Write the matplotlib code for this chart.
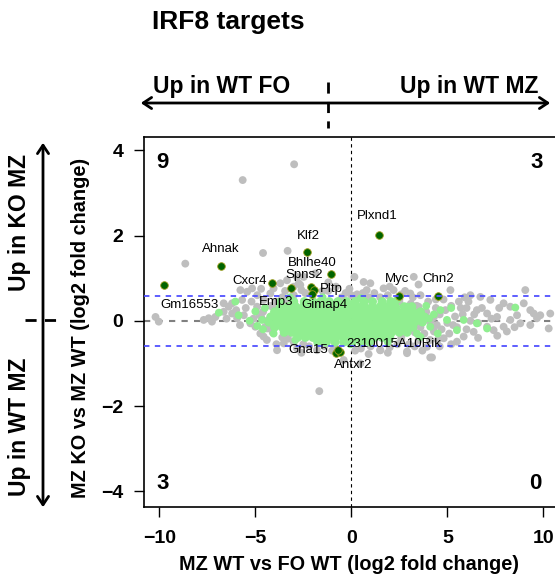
import numpy as np
import matplotlib
matplotlib.use("Agg")
import matplotlib.pyplot as plt
from matplotlib.patches import FancyArrowPatch
from matplotlib.lines import Line2D

plt.rcParams['font.family'] = ['Liberation Sans', 'DejaVu Sans']

# grey: all genes (edges of the cloud + tails + outliers)
grey_pts = [
    (-10.2, 0.09), (-10.03, -0.02), (-8.65, 1.34), (-7.69, 0.02), (-7.43, 0.06), (-7.26, -0.02),
    (-7.08, 0.09), (-6.65, 0.21), (-6.65, 0.41), (-6.39, 0.33), (-6.21, 0.17), (-6.21, 0.41),
    (-5.95, 0.06), (-5.6, 0.13), (-5.69, 0.49), (-5.43, 0.68), (-5.17, 0.76), (-5.78, 0.72),
    (-5.26, -0.06), (-5.0, -0.14), (-4.74, -0.3), (-4.57, -0.37), (-4.39, -0.18), (-3.87, -0.69),
    (-3.52, -0.53), (-4.91, 0.33), (-4.57, 0.49), (-4.22, 0.64), (-4.05, 0.76), (-3.7, 0.88),
    (-3.35, 0.95), (-2.83, 1.03), (-2.66, 0.84), (-4.6, 1.59), (-3.32, 1.64), (-5.66, 3.30),
    (-2.98, 3.67), (-1.67, -1.65), (-2.48, 1.03), (-1.88, 1.11), (-2.74, 0.88),
    (0.16, 1.03), (0.64, 0.91), (0.99, 0.88), (3.25, 1.03), (1.68, 0.76), (3.07, 0.64),
    (5.16, 0.72), (6.2, 0.6), (6.72, 0.56), (7.24, 0.49), (7.93, 0.41), (8.28, 0.33),
    (9.32, 0.25), (9.5, 0.17), (9.84, 0.13), (10.36, 0.17), (10.28, -0.18), (9.32, -0.1),
    (8.8, -0.06), (7.93, -0.14), (7.41, -0.22), (7.07, -0.14), (6.37, -0.26), (5.85, -0.37),
    (5.5, -0.49), (4.81, -0.41), (4.11, -0.86), (3.94, -0.61), (6.54, 0.25), (7.07, 0.17),
    (7.59, 0.09), (8.28, 0.02), (8.63, 0.13), (8.98, 0.41), (9.67, 0.06), (9.06, 0.72),
    (4.0, 0.45), (4.4, 0.3), (4.8, 0.5), (5.2, 0.35), (5.6, 0.45), (6.0, 0.3), (3.7, 0.2),
    (4.2, 0.05), (4.6, 0.15), (5.0, -0.05), (5.4, 0.1), (5.8, 0.15), (6.2, 0.0), (6.6, -0.05),
    (3.8, -0.3), (4.3, -0.25), (4.7, -0.2), (5.1, -0.3), (5.5, -0.15), (6.0, -0.2), (3.5, -0.45),
    (4.5, -0.45), (3.2, 0.55), (3.6, 0.6), (2.8, 0.7), (2.2, 0.72), (1.9, 0.6), (2.5, 0.5),
    (3.3, -0.6), (2.9, -0.72), (2.4, -0.55), (1.5, -0.69), (1.0, -0.6), (0.5, -0.65),
    (0.47, -1.0), (-0.4, -0.92), (-1.0, -0.7), (-1.79, -0.69), (-2.83, -0.65), (-3.0, -0.5),
    (-2.5, -0.55), (1.2, 0.65), (0.3, 0.62), (-0.3, 0.65), (-0.8, 0.8), (-1.5, 0.7),
    (-2.4, 0.65), (-3.0, 0.6), (-3.6, 0.55), (-4.2, 0.35), (-3.9, 0.45), (2.9, -0.76),
    (4.2, -0.86), (1.51, -0.69), (-0.1, 0.75), (0.8, 0.72), (-1.2, 0.9), (-0.5, 0.55),
    (-2.2, -0.6), (-1.4, -0.6), (0.2, -0.7), (2.0, -0.62), (-3.3, -0.42), (-4.3, -0.12),
    (-5.5, 0.3), (-4.9, 0.6), (-3.45, 0.7), (2.6, -0.45), (3.1, 0.4), (0.9, 0.55),
    (3.4, 0.35), (3.9, 0.1), (4.1, -0.45), (4.4, 0.5), (4.9, 0.25), (5.3, -0.1), (5.7, 0.3),
    (6.1, 0.45), (6.4, 0.15), (6.8, 0.3), (7.3, 0.05), (7.7, 0.3), (8.1, -0.25), (8.5, -0.15),
    (3.0, -0.55), (3.7, -0.7), (4.6, -0.6), (5.2, -0.55), (6.6, -0.4), (7.6, -0.35),
    (-5.8, -0.1), (-5.2, 0.45), (-4.7, 0.75), (-4.4, -0.45), (-3.9, -0.55), (-3.0, 0.8),
    (-2.6, 0.72), (-1.2, 0.7), (0.0, 0.6), (0.6, 0.65), (1.5, 0.55), (2.0, 0.8), (2.6, 0.62),
    (-0.8, -0.65), (0.9, -0.78), (-2.6, -0.75), (1.9, -0.75), (3.5, 0.85), (5.9, 0.55),
    (-6.0, 0.25), (-6.5, 0.05), (-5.1, 0.05), (-4.8, 0.15),
    (-4.6, 0.21), (-4.7, 0.09), (-4.5, -0.15), (-4.1, -0.27), (-3.6, -0.39), (3.9, 0.21),
    (4.1, -0.03), (4.3, 0.09), (3.6, -0.15), (3.3, -0.27), (2.6, -0.39), (3.5, 0.33),
    (2.5, 0.45), (-3.3, 0.45), (-4.1, 0.33), (-4.4, 0.0), (4.45, -0.1), (-3.9, 0.25),
]

# light green: IRF8 targets (dense core rows + scattered)
green_rows = {
    0.45: [-3.0, -2.45, -2.0, -1.6, -1.15, -0.7, -0.25, 0.2, 0.65, 1.1, 1.6, 2.05],
    0.33: [-3.7, -3.3, -2.9, -2.5, -2.1, -1.7, -1.3, -0.9, -0.5, -0.1, 0.3, 0.7, 1.1,
           1.5, 1.9, 2.3, 2.75, 3.15],
    0.21: [-4.0, -3.6, -3.2, -2.8, -2.4, -2.0, -1.6, -1.2, -0.8, -0.4, 0.0, 0.4, 0.8,
           1.2, 1.6, 2.0, 2.4, 2.8, 3.2, 3.6],
    0.09: [-4.2, -3.8, -3.4, -3.0, -2.6, -2.2, -1.8, -1.4, -1.0, -0.6, -0.2, 0.2, 0.6,
           1.0, 1.4, 1.8, 2.2, 2.6, 3.0, 3.4, 3.8],
    -0.03: [-4.3, -3.9, -3.5, -3.1, -2.7, -2.3, -1.9, -1.5, -1.1, -0.7, -0.3, 0.1, 0.5,
            0.9, 1.3, 1.7, 2.1, 2.5, 2.9, 3.3, 3.7],
    -0.15: [-4.0, -3.6, -3.2, -2.8, -2.4, -2.0, -1.6, -1.2, -0.8, -0.4, 0.0, 0.4, 0.8,
            1.2, 1.6, 2.0, 2.4, 2.8, 3.2],
    -0.27: [-3.5, -3.1, -2.7, -2.3, -1.9, -1.5, -1.1, -0.7, -0.3, 0.1, 0.5, 0.9, 1.3,
            1.7, 2.1, 2.5, 2.9],
    -0.39: [-2.8, -2.4, -2.0, -1.6, -1.2, -0.8, -0.4, 0.0, 0.4, 0.8, 1.2, 1.6, 2.0],
    -0.50: [-1.75, -1.3, -0.85, -0.4, 0.05, 0.5, 0.95],
}
green_pts = [
    (-6.9, 0.19), (-6.04, 0.45), (-5.87, 0.13), (-5.3, 0.0), (-5.0, 0.22), (-4.65, 0.02),
    (-4.9, -0.12), (-4.05, -0.3), (-3.7, 0.45), (-2.92, -0.45), (4.64, 0.25), (4.11, -0.14),
    (4.98, 0.02), (5.5, -0.22), (5.85, 0.02), (6.54, -0.06), (7.07, -0.18), (8.54, 0.31),
    (4.5, -0.3), (5.2, 0.3), (3.9, 0.35), (4.3, 0.15), (3.6, -0.38), (-3.2, 0.55),
    (-1.5, 0.55), (0.5, 0.53), (-0.05, -0.55), (1.9, -0.5), (2.9, 0.33), (2.72, -0.14),
    (2.38, 0.49), (1.86, -0.37), (3.42, -0.3), (-4.5, 0.3), (-4.6, -0.2), (4.05, 0.05),
]

# dark green: significant targets
hit_genes = ['Ahnak', 'Gm16553', 'Klf2', 'Bhlhe40', 'Cxcr4', 'Emp3', 'Spns2', 'Pltp', 'Gimap4',
             'Plxnd1', 'Myc', 'Chn2', 'Gna15', '2310015A10Rik', 'Antxr2']
hit_x = [-6.79, -9.76, -2.29, -1.08, -4.11, -3.16, -2.12, -1.93, -2.05,
         1.42, 2.47, 4.53, -0.78, -0.61, -0.71]
hit_y = [1.29, 0.85, 1.62, 1.10, 0.89, 0.76, 0.80, 0.72, 0.62,
         2.02, 0.59, 0.59, -0.75, -0.73, -0.69]
label_xy = {
    'Ahnak': (-6.79, 1.68), 'Gm16553': (-8.42, 0.38), 'Klf2': (-2.25, 1.98),
    'Bhlhe40': (-2.05, 1.36), 'Spns2': (-2.45, 1.07), 'Cxcr4': (-5.31, 0.93),
    'Pltp': (-1.04, 0.74), 'Gimap4': (-1.41, 0.38), 'Emp3': (-3.9, 0.45),
    'Plxnd1': (1.37, 2.45), 'Myc': (2.38, 0.98), 'Chn2': (4.51, 0.98),
    '2310015A10Rik': (2.2, -0.55), 'Antxr2': (0.12, -1.04), 'Gna15': (-2.22, -0.69),
}

quadrant_counts = ['9', '3', '3', '0']
quadrant_xy = [(-9.84, 3.71), (9.64, 3.71), (-9.84, -3.82), (9.58, -3.82)]
fc_cut = 0.585

fig = plt.figure(figsize=(5.55, 5.84), dpi=100)
ax = fig.add_axes([144 / 555, 77.3 / 584, 414.7 / 555, 369.7 / 584])

ax.axhline(0, color='#808080', lw=1.5, ls=(0, (3, 3)), zorder=1)
ax.axvline(0, color='black', lw=0.8, ls=(0, (3, 3)), zorder=1)

gp = np.array(grey_pts)
ax.scatter(gp[:, 0], gp[:, 1], s=32, color='#BEBEBE', edgecolors='none', zorder=2)

core_x = [x for y, xs in green_rows.items() for x in xs]
core_y = [y for y, xs in green_rows.items() for x in xs]
gr = np.array(green_pts)
ax.scatter(core_x, core_y, s=42, color='#90EE90', edgecolors='none', zorder=3)
ax.scatter(gr[:, 0], gr[:, 1], s=32, color='#90EE90', edgecolors='none', zorder=3)

ax.scatter(hit_x, hit_y, s=30, color='#006400', edgecolors='#9c9c1c', linewidths=0.6, zorder=4)

for c in (fc_cut, -fc_cut):
    ax.axhline(c, color='#5050ff', lw=1.3, ls=(0, (3, 3)), zorder=5)

for g in hit_genes:
    lx, ly = label_xy[g]
    ax.text(lx, ly, g, fontsize=9.5, ha='center', va='center', zorder=6)

for t, (qx, qy) in zip(quadrant_counts, quadrant_xy):
    ax.text(qx, qy, t, fontsize=16, fontweight='bold', ha='center', va='center')

ax.set_xlim(-10.8, 10.8)
ax.set_ylim(-4.36, 4.31)
ax.set_xticks([-10, -5, 0, 5, 10])
ax.set_yticks([-4, -2, 0, 2, 4])
ax.tick_params(axis='both', length=7, width=1, labelsize=14)
ax.tick_params(axis='x', pad=10)
ax.tick_params(axis='y', pad=8)
for lab in ax.get_xticklabels() + ax.get_yticklabels():
    lab.set_fontweight('bold')
for sp in ax.spines.values():
    sp.set_linewidth(1.2)

fig.text(349 / 555, 1 - 565 / 584, 'MZ WT vs FO WT (log2 fold change)',
         fontsize=14.3, fontweight='bold', ha='center', va='center')
fig.text(81 / 555, 1 - 328 / 584, 'MZ KO vs MZ WT (log2 fold change)',
         fontsize=14.3, fontweight='bold', ha='center', va='center', rotation=90)
fig.text(152 / 555, 1 - 22 / 584, 'IRF8 targets', fontsize=19, fontweight='bold',
         ha='left', va='center')

# top direction arrow
fig.patches.append(FancyArrowPatch((138 / 555, 1 - 103 / 584), (553 / 555, 1 - 103 / 584),
                                   transform=fig.transFigure, arrowstyle='<->,head_length=6,head_width=4',
                                   lw=2, color='black'))
fig.lines.append(Line2D([328 / 555, 328 / 555], [1 - 82 / 584, 1 - 128 / 584],
                        transform=fig.transFigure, color='black', lw=2, ls=(0, (4, 3))))
fig.text(153 / 555, 1 - 87 / 584, 'Up in WT FO', fontsize=16.5, fontweight='bold', ha='left', va='center')
fig.text(538 / 555, 1 - 87 / 584, 'Up in WT MZ', fontsize=16.5, fontweight='bold', ha='right', va='center')

# left direction arrow
fig.patches.append(FancyArrowPatch((43 / 555, 1 - 510 / 584), (43 / 555, 1 - 140 / 584),
                                   transform=fig.transFigure, arrowstyle='<->,head_length=6,head_width=4',
                                   lw=2, color='black'))
fig.lines.append(Line2D([25 / 555, 63 / 555], [1 - 320 / 584, 1 - 320 / 584],
                        transform=fig.transFigure, color='black', lw=2, ls=(0, (4, 3))))
fig.text(20 / 555, 1 - 222 / 584, 'Up in KO MZ', fontsize=16.5, fontweight='bold',
         ha='center', va='center', rotation=90)
fig.text(20 / 555, 1 - 427 / 584, 'Up in WT MZ', fontsize=16.5, fontweight='bold',
         ha='center', va='center', rotation=90)

fig.savefig('out.png', dpi=100)
